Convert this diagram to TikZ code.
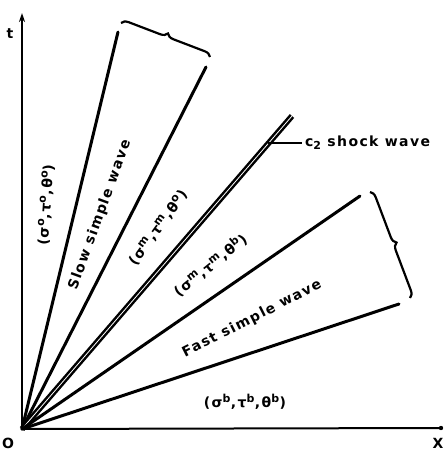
\documentclass[tikz,border=0pt]{standalone}
\usepackage{fontspec}
\setmainfont{DejaVu Sans}[LetterSpace=10]
\usetikzlibrary{decorations.pathreplacing,arrows.meta}
\newcommand\sups[1]{\textsuperscript{\fontsize{11}{11}\selectfont #1}}
\begin{document}
\begin{tikzpicture}[x=1pt,y=-1pt,
  wave/.style={line width=3pt, line cap=round},
  axis/.style={line width=2pt},
  lbl/.style={font=\fontsize{14}{16}\selectfont\bfseries, inner sep=0pt},
  bracestyle/.style={line width=2.2pt, decorate, decoration={brace, amplitude=7pt}},
]
\useasboundingbox (0,0) rectangle (446,451);
\coordinate (O) at (22,429);
\coordinate (T) at (22,13);
\coordinate (X) at (441,428);
% axes
\draw[axis, -{Stealth[length=9pt,width=6pt]}] (O) -- (T);
\draw[axis] (O) -- (X);
\fill (X) circle (2.2pt);
\node[lbl] (tl) at (10,34) {t};
\node[lbl] (ol) at (8,443) {O};
\node[lbl] (xl) at (438,443) {X};
% wave lines
\coordinate (S1) at (118,32);
\coordinate (S2) at (206,67);
\coordinate (SH) at (292,116);
\coordinate (F1) at (360,196);
\coordinate (F2) at (399,304);
\draw[wave] (O) -- (S1);
\draw[wave] (O) -- (S2);
\draw[line width=2.5pt, double=white, double distance=0.8pt] (O) -- (SH);
\draw[wave] (O) -- (F1);
\draw[wave] (O) -- (F2);
% braces
\coordinate (B1a) at (121,23);
\coordinate (B1b) at (210,57);
\coordinate (B2a) at (370,192);
\coordinate (B2b) at (410,298);
\draw[bracestyle] (B1a) -- (B1b);
\draw[bracestyle] (B2a) -- (B2b);
% shock label
\coordinate (L1) at (268,143);
\coordinate (L2) at (302,143);
\draw[line width=1.6pt] (L1) -- (L2);
\node[lbl, anchor=west] (shl) at (305,143) {c\raisebox{-0.4ex}{\fontsize{11}{11}\selectfont 2} shock wave};
% region labels
\node[lbl, rotate=86] (r0) at (46,205) {(σ\sups{o},τ\sups{o},θ\sups{o})};
\node[lbl, rotate=70] (sw) at (100,215) {Slow simple wave};
\node[lbl, rotate=54] (rm0) at (158,228) {(σ\sups{m},τ\sups{m},θ\sups{o})};
\node[lbl, rotate=39] (rmb) at (210,265) {(σ\sups{m},τ\sups{m},θ\sups{b})};
\node[lbl, rotate=27] (fw) at (252,319) {Fast simple wave};
\node[lbl] (rb) at (245,402) {(σ\sups{b},τ\sups{b},θ\sups{b})};
\end{tikzpicture}
\end{document}
